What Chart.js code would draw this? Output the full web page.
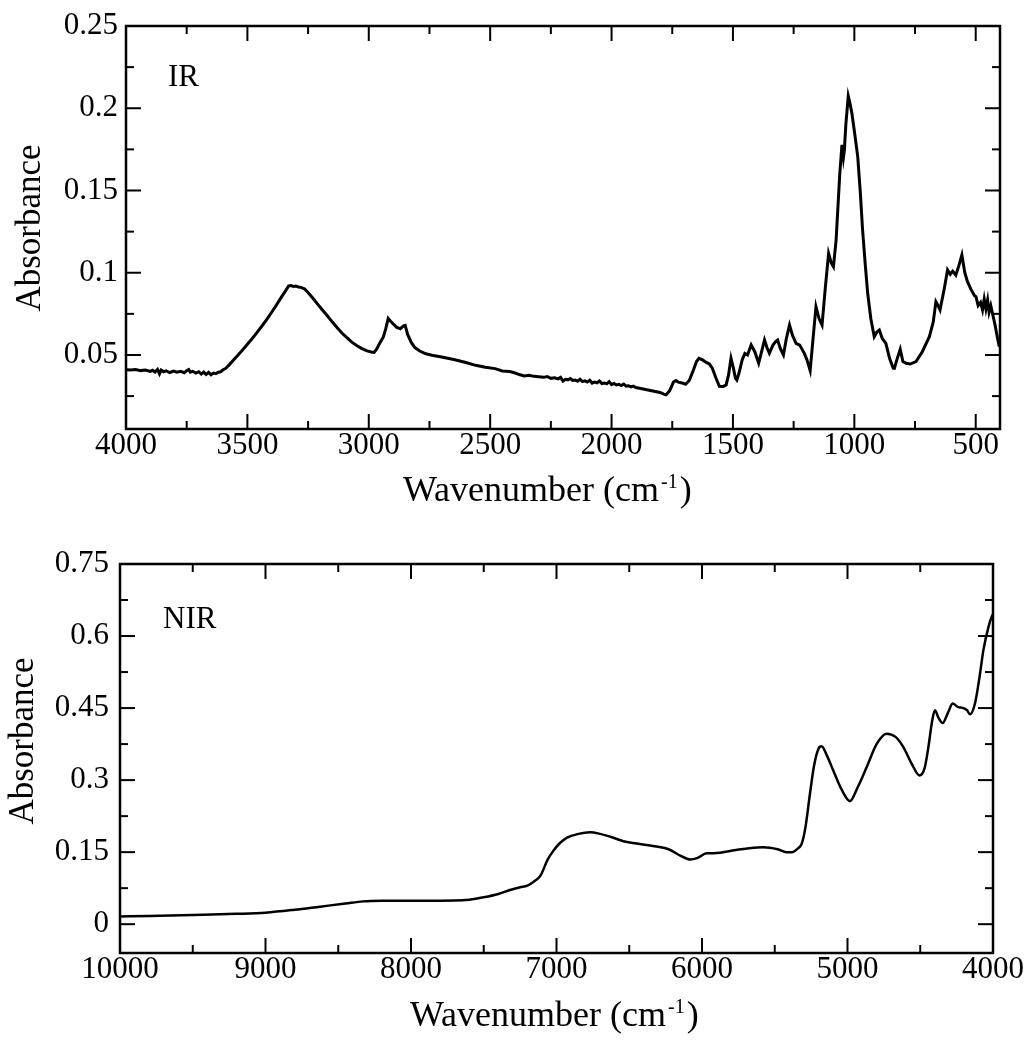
<!DOCTYPE html>
<html>
<head>
<meta charset="utf-8">
<script src="https://cdn.jsdelivr.net/npm/chart.js@4"></script>
<style>
  html, body { margin: 0; padding: 0; background: #fff; }
  .panel { position: absolute; left: 0; width: 1030px; height: 520px; }
</style>
</head>
<body>
<div class="panel" style="top:0"><canvas id="ir-chart" width="1030" height="520"></canvas></div>
<div class="panel" style="top:520px"><canvas id="nir-chart" width="1030" height="520"></canvas></div>
<script>
// IR spectrum (wavenumber cm-1 / absorbance)
const irWavenumber = [
  4000, 3980, 3960, 3940, 3920, 3900, 3890, 3880, 3870, 3862, 3855, 3845, 3835, 3820, 3805, 3790, 3775, 3760, 3750, 3742,
  3735, 3725, 3712, 3700, 3690, 3680, 3670, 3660, 3650, 3640, 3630, 3620, 3610, 3600, 3590, 3575, 3560, 3540, 3520, 3500,
  3480, 3460, 3440, 3420, 3400, 3380, 3360, 3345, 3330, 3320, 3310, 3300, 3290, 3280, 3265, 3250, 3230, 3210, 3190, 3170,
  3150, 3130, 3110, 3090, 3070, 3050, 3030, 3010, 2990, 2978, 2968, 2955, 2940, 2930, 2920, 2910, 2900, 2885, 2870, 2858,
  2850, 2840, 2825, 2810, 2790, 2765, 2740, 2700, 2650, 2600, 2560, 2520, 2480, 2450, 2420, 2400, 2380, 2360, 2340, 2320,
  2300, 2280, 2265, 2250, 2235, 2220, 2210, 2200, 2190, 2180, 2170, 2160, 2150, 2140, 2130, 2120, 2110, 2100, 2090, 2080,
  2070, 2060, 2050, 2040, 2030, 2020, 2010, 2000, 1990, 1980, 1970, 1960, 1950, 1940, 1930, 1920, 1910, 1900, 1880, 1860,
  1840, 1820, 1800, 1785, 1775, 1760, 1745, 1735, 1725, 1710, 1695, 1680, 1665, 1650, 1640, 1625, 1610, 1597, 1585, 1570,
  1556, 1540, 1528, 1518, 1508, 1498, 1490, 1484, 1475, 1462, 1451, 1440, 1425, 1410, 1394, 1382, 1370, 1360, 1350, 1335,
  1325, 1316, 1305, 1292, 1280, 1267, 1255, 1240, 1225, 1206, 1195, 1182, 1170, 1158, 1145, 1133, 1120, 1106, 1095, 1086,
  1075, 1069, 1060, 1051, 1045, 1041, 1035, 1025, 1018, 1010, 998, 986, 975, 966, 955, 945, 932, 918, 907, 897,
  885, 870, 855, 840, 835, 825, 811, 800, 787, 770, 746, 720, 691, 675, 664, 655, 647, 630, 616, 605,
  595, 582, 570, 557, 545, 534, 520, 505, 499, 490, 480, 472, 465, 458, 451, 445, 438, 431, 420, 410,
  403
];
const irAbsorbance = [
  0.0410, 0.0408, 0.0411, 0.0405, 0.0409, 0.0400, 0.0407, 0.0396, 0.0412, 0.0385, 0.0408, 0.0398, 0.0404, 0.0393, 0.0402, 0.0395, 0.0401, 0.0392, 0.0405, 0.0412,
  0.0396, 0.0401, 0.0390, 0.0398, 0.0384, 0.0396, 0.0381, 0.0394, 0.0379, 0.0390, 0.0386, 0.0395, 0.0398, 0.0410, 0.0418, 0.0440, 0.0465, 0.0497, 0.0530, 0.0565,
  0.0600, 0.0637, 0.0676, 0.0716, 0.0760, 0.0805, 0.0852, 0.0885, 0.0920, 0.0922, 0.0916, 0.0919, 0.0913, 0.0911, 0.0902, 0.0880, 0.0845, 0.0808, 0.0772, 0.0737,
  0.0700, 0.0665, 0.0632, 0.0605, 0.0578, 0.0558, 0.0540, 0.0526, 0.0518, 0.0516, 0.0535, 0.0572, 0.0610, 0.0660, 0.0722, 0.0705, 0.0690, 0.0668, 0.0660, 0.0676,
  0.0680, 0.0625, 0.0576, 0.0545, 0.0524, 0.0507, 0.0498, 0.0488, 0.0472, 0.0454, 0.0437, 0.0425, 0.0417, 0.0403, 0.0399, 0.0392, 0.0381, 0.0373, 0.0376, 0.0370,
  0.0368, 0.0364, 0.0369, 0.0358, 0.0361, 0.0355, 0.0364, 0.0341, 0.0352, 0.0349, 0.0357, 0.0345, 0.0348, 0.0341, 0.0352, 0.0338, 0.0343, 0.0336, 0.0346, 0.0329,
  0.0335, 0.0331, 0.0342, 0.0326, 0.0330, 0.0325, 0.0338, 0.0320, 0.0327, 0.0318, 0.0322, 0.0314, 0.0323, 0.0310, 0.0313, 0.0306, 0.0311, 0.0302, 0.0296, 0.0290,
  0.0284, 0.0278, 0.0272, 0.0262, 0.0258, 0.0285, 0.0335, 0.0345, 0.0335, 0.0330, 0.0322, 0.0345, 0.0400, 0.0460, 0.0480, 0.0470, 0.0455, 0.0445, 0.0420, 0.0360,
  0.0310, 0.0308, 0.0318, 0.0380, 0.0480, 0.0420, 0.0360, 0.0348, 0.0390, 0.0470, 0.0510, 0.0500, 0.0561, 0.0520, 0.0450, 0.0520, 0.0591, 0.0545, 0.0510, 0.0560,
  0.0580, 0.0591, 0.0540, 0.0500, 0.0600, 0.0682, 0.0620, 0.0571, 0.0560, 0.0510, 0.0470, 0.0405, 0.0600, 0.0794, 0.0720, 0.0682, 0.0900, 0.1118, 0.1060, 0.1037,
  0.1200, 0.1361, 0.1600, 0.1777, 0.1700, 0.1746, 0.1900, 0.2074, 0.2030, 0.1969, 0.1840, 0.1706, 0.1480, 0.1260, 0.1050, 0.0875, 0.0720, 0.0611, 0.0640, 0.0652,
  0.0600, 0.0571, 0.0480, 0.0420, 0.0419, 0.0470, 0.0535, 0.0460, 0.0450, 0.0445, 0.0460, 0.0520, 0.0611, 0.0700, 0.0824, 0.0800, 0.0774, 0.0900, 0.1017, 0.0990,
  0.1010, 0.0986, 0.1040, 0.1108, 0.1000, 0.0946, 0.0900, 0.0860, 0.0854, 0.0800, 0.0820, 0.0774, 0.0840, 0.0780, 0.0834, 0.0760, 0.0800, 0.0753, 0.0680, 0.0600,
  0.0550
];

// NIR spectrum
const nirWavenumber = [
  10000, 9800, 9500, 9200, 9000, 8800, 8625, 8450, 8330, 8200, 8000, 7800, 7700, 7600, 7500, 7400, 7320, 7250, 7200, 7150,
  7110, 7060, 7020, 6980, 6930, 6850, 6770, 6700, 6600, 6541, 6450, 6312, 6230, 6150, 6082, 6030, 5968, 5900, 5800, 5700,
  5579, 5480, 5420, 5384, 5340, 5315, 5290, 5258, 5230, 5200, 5178, 5140, 5098, 5040, 4983, 4930, 4868, 4800, 4731, 4670,
  4616, 4560, 4506, 4470, 4444, 4420, 4399, 4375, 4346, 4310, 4277, 4240, 4215, 4180, 4158, 4124, 4090, 4066, 4030, 4009,
  4000
];
const nirAbsorbance = [
  0.0160, 0.0170, 0.0191, 0.0215, 0.0240, 0.0300, 0.0365, 0.0430, 0.0475, 0.0488, 0.0490, 0.0490, 0.0492, 0.0510, 0.0560, 0.0630, 0.0713, 0.0770, 0.0803, 0.0900,
  0.1011, 0.1350, 0.1533, 0.1680, 0.1798, 0.1880, 0.1915, 0.1880, 0.1790, 0.1727, 0.1680, 0.1616, 0.1560, 0.1430, 0.1345, 0.1380, 0.1477, 0.1480, 0.1530, 0.1570,
  0.1602, 0.1560, 0.1500, 0.1498, 0.1580, 0.1673, 0.2000, 0.2716, 0.3300, 0.3650, 0.3703, 0.3500, 0.3202, 0.2800, 0.2562, 0.2850, 0.3271, 0.3750, 0.3967, 0.3900,
  0.3688, 0.3350, 0.3098, 0.3250, 0.3688, 0.4200, 0.4454, 0.4300, 0.4189, 0.4400, 0.4594, 0.4520, 0.4510, 0.4460, 0.4370, 0.4594, 0.5200, 0.5706, 0.6200, 0.6400,
  0.6450
];

// Axis ticks
const irXTicks = [4000, 3500, 3000, 2500, 2000, 1500, 1000, 500];
const irXMinor = [3750, 3250, 2750, 2250, 1750, 1250, 750];
const irYTicks = [0.05, 0.1, 0.15, 0.2, 0.25];
const irYMinor = [0.025, 0.075, 0.125, 0.175, 0.225];
const nirXTicks = [10000, 9000, 8000, 7000, 6000, 5000, 4000];
const nirXMinor = [9500, 8500, 7500, 6500, 5500, 4500];
const nirYTicks = [0, 0.15, 0.3, 0.45, 0.6, 0.75];
const nirYMinor = [0.075, 0.225, 0.375, 0.525, 0.675];

const FONT = '"Liberation Serif", "Times New Roman", serif';

// Frame, inward tick marks and the texts drawn around the plot
const spectrumFrame = {
  id: 'spectrumFrame',
  afterDatasetsDraw(chart, args, opts) {
    const { ctx, chartArea: a, scales: { x, y } } = chart;
    ctx.save();
    ctx.strokeStyle = '#000';
    ctx.lineWidth = 2;
    const seg = (x1, y1, x2, y2) => { ctx.beginPath(); ctx.moveTo(x1, y1); ctx.lineTo(x2, y2); ctx.stroke(); };
    const xMark = (v, len) => { const p = x.getPixelForValue(v); seg(p, a.bottom, p, a.bottom - len); seg(p, a.top, p, a.top + len); };
    const yMark = (v, len) => { const p = y.getPixelForValue(v); seg(a.left, p, a.left + len, p); seg(a.right, p, a.right - len, p); };
    opts.xMajor.forEach(v => xMark(v, 15));
    opts.xMinor.forEach(v => xMark(v, 8));
    opts.yMajor.forEach(v => yMark(v, 15));
    opts.yMinor.forEach(v => yMark(v, 8));
    ctx.lineWidth = 2.5;
    ctx.strokeRect(a.left, a.top, a.right - a.left, a.bottom - a.top);

    ctx.fillStyle = '#000';
    // panel label
    ctx.font = '31px ' + FONT;
    ctx.textAlign = 'left';
    ctx.textBaseline = 'alphabetic';
    ctx.fillText(opts.label, opts.labelX, opts.labelY);

    // x title with superscript
    ctx.font = '36px ' + FONT;
    const main = 'Wavenumber (cm';
    let tx = opts.xTitleX;
    ctx.fillText(main, tx, opts.xTitleY);
    tx += ctx.measureText(main).width + 2;
    ctx.font = '20px ' + FONT;
    ctx.fillText('-1', tx, opts.xTitleY - 13);
    tx += ctx.measureText('-1').width + 2;
    ctx.font = '36px ' + FONT;
    ctx.fillText(')', tx, opts.xTitleY);

    // y title
    ctx.translate(opts.yTitleX, opts.yTitleY);
    ctx.rotate(-Math.PI / 2);
    ctx.textAlign = 'center';
    ctx.textBaseline = 'middle';
    ctx.font = '35px ' + FONT;
    ctx.fillText('Absorbance', 0, 0);
    ctx.restore();
  }
};

function makeSpectrum(canvasId, spec) {
  const points = spec.wavenumber.map((w, i) => ({ x: w, y: spec.absorbance[i] }));
  return new Chart(document.getElementById(canvasId), {
    type: 'line',
    data: {
      datasets: [{
        data: points,
        borderColor: '#000',
        borderWidth: spec.lineWidth,
        pointRadius: 0,
        fill: false,
        tension: 0,
        cubicInterpolationMode: spec.smooth ? 'monotone' : 'default'
      }]
    },
    options: {
      responsive: false,
      animation: false,
      events: [],
      layout: { padding: { top: spec.box.top, right: 1030 - spec.box.right, left: 0, bottom: 0 } },
      plugins: {
        legend: { display: false },
        tooltip: { enabled: false },
        spectrumFrame: {
          xMajor: spec.xTicks, xMinor: spec.xMinor, yMajor: spec.yTicks, yMinor: spec.yMinor,
          label: spec.label, labelX: spec.labelX, labelY: spec.labelY,
          xTitleX: spec.xTitleX, xTitleY: spec.xTitleY,
          yTitleX: spec.yTitleX, yTitleY: spec.yTitleY
        }
      },
      scales: {
        x: {
          type: 'linear',
          reverse: true,
          min: spec.xMin,
          max: spec.xMax,
          grid: { display: false, drawTicks: false },
          border: { display: false },
          ticks: {
            color: '#000',
            font: { family: FONT, size: 31, lineHeight: 1 },
            padding: 1,
            autoSkip: false,
            maxRotation: 0,
            callback: v => String(v)
          },
          afterBuildTicks: s => { s.ticks = spec.xTicks.map(v => ({ value: v })); },
          afterFit: s => { s.height = 520 - spec.box.bottom; s.paddingLeft = 0; s.paddingRight = 0; }
        },
        y: {
          type: 'linear',
          min: spec.yMin,
          max: spec.yMax,
          grid: { display: false, drawTicks: false },
          border: { display: false },
          ticks: {
            color: '#000',
            font: { family: FONT, size: 31, lineHeight: 1 },
            padding: spec.yPad,
            autoSkip: false,
            callback: v => String(Math.round(v * 1000) / 1000)
          },
          afterBuildTicks: s => { s.ticks = spec.yTicks.map(v => ({ value: v })); },
          afterFit: s => { s.width = spec.box.left; s.paddingTop = 0; s.paddingBottom = 0; }
        }
      }
    },
    plugins: [spectrumFrame]
  });
}

makeSpectrum('ir-chart', {
  wavenumber: irWavenumber, absorbance: irAbsorbance,
  xMin: 400, xMax: 4000, yMin: 0.005, yMax: 0.25,
  xTicks: irXTicks, xMinor: irXMinor, yTicks: irYTicks, yMinor: irYMinor,
  box: { left: 126, right: 1000, top: 26, bottom: 429 },
  yPad: 8, lineWidth: 3, smooth: false,
  label: 'IR', labelX: 168, labelY: 86,
  xTitleX: 403, xTitleY: 501, yTitleX: 31, yTitleY: 228
});

makeSpectrum('nir-chart', {
  wavenumber: nirWavenumber, absorbance: nirAbsorbance,
  xMin: 4000, xMax: 10000, yMin: -0.06, yMax: 0.75,
  xTicks: nirXTicks, xMinor: nirXMinor, yTicks: nirYTicks, yMinor: nirYMinor,
  box: { left: 120, right: 993, top: 44, bottom: 433 },
  yPad: 11, lineWidth: 2.5, smooth: true,
  label: 'NIR', labelX: 163, labelY: 108,
  xTitleX: 410, xTitleY: 506, yTitleX: 24, yTitleY: 221
});
</script>
</body>
</html>
